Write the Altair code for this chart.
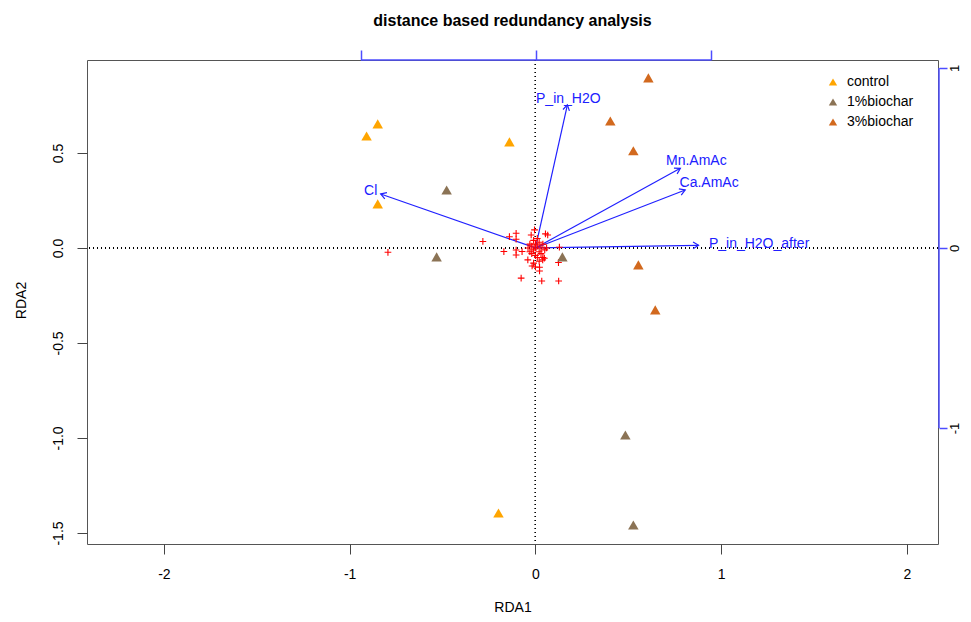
import math
import altair as alt
import pandas as pd

# ---------------- data ----------------
group_names = ["control", "1%biochar", "3%biochar"]
group_colors = ["#FFA500", "#8B7355", "#D2691E"]

site_group = ["control"] * 5 + ["1%biochar"] * 5 + ["3%biochar"] * 5
site_x = [-0.849, -0.909, -0.140, -0.849, -0.199,
          -0.478, -0.532, 0.145, 0.484, 0.527,
          0.608, 0.403, 0.527, 0.554, 0.645]
site_y = [0.653, 0.589, 0.558, 0.232, -1.395,
          0.305, -0.047, -0.047, -0.984, -1.458,
          0.895, 0.668, 0.511, -0.089, -0.326]

species_x = [-0.794, -0.283, -0.170, -0.140, -0.104, -0.104, -0.104, -0.072, -0.104,
             -0.023, -0.005, 0.054, 0.066, 0.129, 0.124, -0.077, 0.034, 0.125,
             -0.018, 0.022, 0.022, 0.048, 0.039, -0.041,
             -0.030, -0.020, -0.010, 0.000, 0.010, 0.020, 0.030, 0.040, -0.020,
             0.000, 0.010, 0.030, -0.040, 0.020, -0.010, 0.050, 0.000, -0.030,
             0.020, -0.010, 0.040, 0.000, 0.060, 0.010]
species_y = [-0.023, 0.034, -0.019, 0.059, 0.077, 0.046, -0.011, -0.019, -0.037,
             0.068, 0.095, 0.074, 0.068, 0.004, -0.077, -0.159, -0.174, -0.174,
             -0.095, -0.102, -0.121, -0.054, -0.063, -0.063,
             0.020, 0.010, -0.010, 0.000, 0.010, -0.020, 0.000, 0.020, -0.030,
             -0.040, -0.050, -0.030, 0.000, 0.030, 0.040, -0.010, 0.020, -0.020,
             -0.070, -0.080, -0.050, -0.100, 0.000, 0.050]

env_names = ["P_in_H2O", "Cl", "Mn.AmAc", "Ca.AmAc", "P_in_H2O_after"]
env_x = [0.172, -0.833, 0.780, 0.806, 0.878]
env_y = [0.753, 0.284, 0.419, 0.305, 0.014]
env_label_x = [0.177, -0.887, 0.866, 0.935, 1.204]
env_label_y = [0.784, 0.300, 0.458, 0.342, 0.021]

x_ticks = [-2, -1, 0, 1, 2]
y_ticks = [-1.5, -1.0, -0.5, 0.0, 0.5]
sec_ticks = [-1, 0, 1]

# ---------------- layout ----------------
W, H = 851, 484
X_DOM = [-2.414, 2.167]
Y_DOM = [-1.558, 0.989]
TOP_DOM = [-2.566, 2.297]
RIGHT_DOM = [-1.644, 1.044]
BLUE = "#2020ff"
FONT = "Liberation Sans"

kx = W / (X_DOM[1] - X_DOM[0])
ky = H / (Y_DOM[1] - Y_DOM[0])
env_angle = [(math.degrees(math.atan2(-yy * ky, xx * kx)) + 360) % 360
             for xx, yy in zip(env_x, env_y)]

sites = pd.DataFrame({"x": site_x, "y": site_y, "group": site_group})
species = pd.DataFrame({"x": species_x, "y": species_y})
env = pd.DataFrame({"x0": [0.0] * len(env_x), "y0": [0.0] * len(env_y),
                    "x": env_x, "y": env_y, "name": env_names,
                    "lx": env_label_x, "ly": env_label_y, "ang": env_angle})
sec = pd.DataFrame({"lo": [sec_ticks[0]], "hi": [sec_ticks[-1]]})

xaxis = alt.Axis(orient="bottom", values=x_ticks, grid=False, domain=False,
                 tickSize=10, tickColor="#444", labelPadding=13,
                 labelExpr="datum.value + ''",
                 titleY=63, titleBaseline="middle", titleFontSize=14,
                 titleFontWeight="normal")
yaxis = alt.Axis(orient="left", values=y_ticks, grid=False, domain=False,
                 tickSize=10, tickColor="#444", labelAngle=270, labelAlign="center",
                 labelBaseline="bottom", labelPadding=12,
                 labelExpr="replace(format(datum.value, '.1f'), '\u2212', '-')",
                 titleAngle=270, titleX=-66, titleY=H / 2 - 2, titleAlign="center",
                 titleBaseline="middle", titleFontSize=14, titleFontWeight="normal")
xs = alt.Scale(domain=X_DOM, nice=False, zero=False)
ysc = alt.Scale(domain=Y_DOM, nice=False, zero=False)


def X(f):
    return alt.X(f, type="quantitative", scale=xs, axis=xaxis, title="RDA1")


def Y(f):
    return alt.Y(f, type="quantitative", scale=ysc, axis=yaxis, title="RDA2")


vline = alt.Chart(sites).mark_rule(color="black", strokeDash=[1, 3], strokeWidth=1).encode(
    x=alt.X(datum=0, type="quantitative", scale=xs, axis=xaxis, title="RDA1"))
hline = alt.Chart(sites).mark_rule(color="black", strokeDash=[1, 3], strokeWidth=1).encode(
    y=alt.Y(datum=0, type="quantitative", scale=ysc, axis=yaxis, title="RDA2"))

site_layer = alt.Chart(sites).mark_point(shape="triangle-up", filled=True, size=110,
                                         opacity=1).encode(
    x=X("x"), y=Y("y"),
    color=alt.Color("group:N",
                    scale=alt.Scale(domain=group_names, range=group_colors),
                    legend=alt.Legend(orient="none", legendX=739, legendY=15, title=None,
                                      labelFontSize=14, labelFont=FONT, symbolSize=70,
                                      symbolType="triangle-up", rowPadding=6,
                                      labelOffset=7,
                                      symbolStrokeWidth=0, labelColor="black")))

species_layer = alt.Chart(species).mark_point(shape="M-1,0L1,0M0,-1L0,1", filled=False,
                                              color="red", size=45, strokeWidth=1.1,
                                              opacity=1).encode(x=X("x"), y=Y("y"))

arrow_lines = alt.Chart(env).mark_rule(color=BLUE, strokeWidth=1.2).encode(
    x=X("x0"), y=Y("y0"), x2="x:Q", y2="y:Q")
arrow_heads = alt.Chart(env).mark_point(shape="M-1,-0.6L0,0L-1,0.6", filled=False,
                                        color=BLUE, size=120, strokeWidth=1.2,
                                        opacity=1).encode(
    x=X("x"), y=Y("y"), angle=alt.Angle("ang:Q", scale=None))
arrow_text = alt.Chart(env).mark_text(color=BLUE, fontSize=14, font=FONT).encode(
    x=X("lx"), y=Y("ly"), text="name:N")

primary = alt.layer(vline, hline, arrow_lines, arrow_heads, species_layer,
                    site_layer, arrow_text)

top_rule = alt.Chart(sec).mark_rule(color="#4d4dff", strokeWidth=1.5).encode(
    x=alt.X("lo:Q", scale=alt.Scale(domain=TOP_DOM, nice=False, zero=False),
            axis=alt.Axis(orient="top", values=sec_ticks, labels=False, domain=False,
                          grid=False, tickSize=10, tickColor="#4d4dff", tickWidth=1.5),
            title=None),
    x2="hi:Q", y=alt.value(0))
right_rule = alt.Chart(sec).mark_rule(color="#4d4dff", strokeWidth=1.5).encode(
    y=alt.Y("lo:Q", scale=alt.Scale(domain=RIGHT_DOM, nice=False, zero=False),
            axis=alt.Axis(orient="right", values=sec_ticks, domain=False, grid=False,
                          offset=1, tickSize=8, tickColor="#4d4dff", tickWidth=1.5,
                          labelAngle=270, labelAlign="center", labelBaseline="top",
                          labelPadding=1, labelFontSize=13,
                          labelExpr="datum.value + ''"),
            title=None),
    y2="hi:Q", x=alt.value(W + 1))
secondary = alt.layer(top_rule, right_rule)

chart = alt.layer(primary, secondary).resolve_scale(
    x="independent", y="independent").properties(
    width=W, height=H,
    autosize=alt.AutoSizeParams(type="none"),
    padding={"left": 79, "top": 52, "right": 25, "bottom": 70},
    title=alt.TitleParams("distance based redundancy analysis", fontSize=16,
                          fontWeight="bold", font=FONT, anchor="middle", offset=20,
                          color="black"),
).configure_view(stroke="#555", strokeWidth=1).configure_axis(
    labelFont=FONT, labelFontSize=14, labelColor="black", titleFont=FONT,
    titleColor="black")

chart.save("out.html", embed_options={"renderer": "svg", "actions": False})
